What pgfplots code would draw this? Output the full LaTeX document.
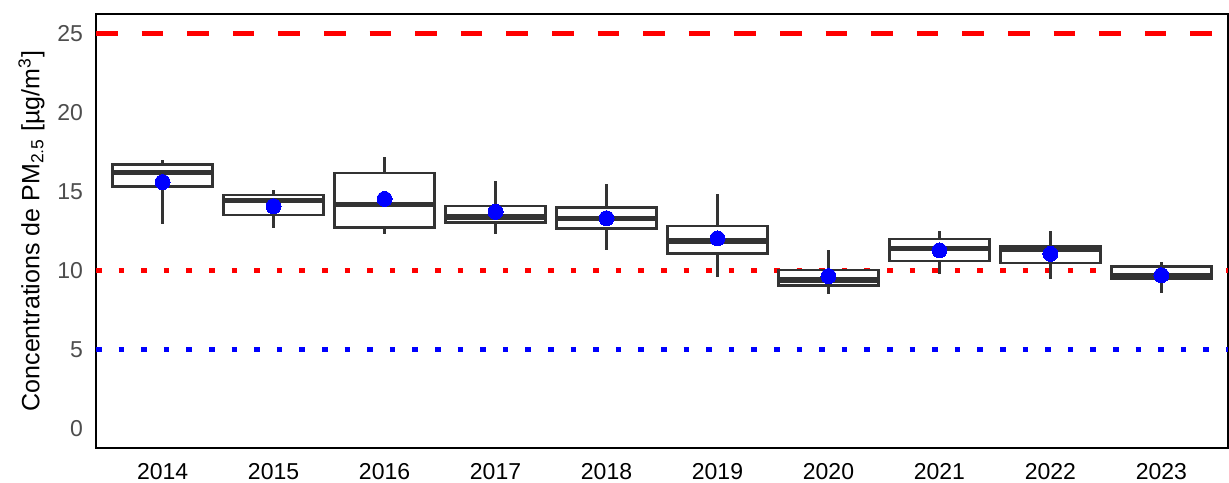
\documentclass[border=0pt]{standalone}
\usepackage{pgfplots}
\pgfplotsset{compat=1.18}
\usepgfplotslibrary{statistics}
\usepackage{fontspec}
\setmainfont{Liberation Sans}
\definecolor{boxgray}{HTML}{333333}
\definecolor{tickgray}{HTML}{4D4D4D}
\begin{document}
\begin{tikzpicture}
\begin{axis}[
  name=ax,
  scale only axis,
  width=566pt, height=217pt,
  xmin=0.4, xmax=10.6,
  ymin=-1.25, ymax=26.25,
  axis line style={black, line width=1pt},
  xtick={1,2,3,4,5,6,7,8,9,10},
  xticklabels={2014,2015,2016,2017,2018,2019,2020,2021,2022,2023},
  ytick={0,5,10,15,20,25},
  major tick length=0pt,
  tick style={draw=none},
  tick label style={font=\fontsize{11.5}{13}\selectfont},
  /pgf/number format/assume math mode=true,
  xticklabel style={yshift=-4.2pt, text=black},
  yticklabel style={xshift=-3pt, text=tickgray},
  ylabel={Concentrations de PM$_{\mathrm{2.5}}$ [µg/m$^{\mathrm{3}}$]},
  ylabel style={font=\fontsize{12.5}{14}\selectfont, yshift=-0.5pt},
  clip=false,
  boxplot/draw direction=y,
  boxplot/box extend=0.9,
  boxplot/whisker extend=0,
  boxplot/every box/.style={draw=boxgray, solid, line width=1.35pt, fill=white},
  boxplot/every whisker/.style={draw=boxgray, solid, line width=1.35pt},
  boxplot/every median/.style={draw=boxgray, solid, line width=2.6pt},
  bx/.style={solid, draw=boxgray, mark=none},
]
% reference lines
\addplot[red, line width=2.7pt, dash pattern=on 10.8pt off 12pt] coordinates {(0.4,25) (10.6,25)};
\addplot[red, line width=2.8pt, dash pattern=on 2.8pt off 8.5pt] coordinates {(0.4,10) (10.6,10)};
\addplot[blue, line width=2.8pt, dash pattern=on 2.8pt off 8.5pt] coordinates {(0.4,5) (10.6,5)};
% boxes
\addplot[bx, boxplot prepared={draw position=1, lower whisker=12.93, lower quartile=15.30, median=16.20, upper quartile=16.73, upper whisker=17.00}] coordinates {};
\addplot[bx, boxplot prepared={draw position=2, lower whisker=12.68, lower quartile=13.52, median=14.43, upper quartile=14.79, upper whisker=15.08}] coordinates {};
\addplot[bx, boxplot prepared={draw position=3, lower whisker=12.30, lower quartile=12.74, median=14.20, upper quartile=16.18, upper whisker=17.20}] coordinates {};
\addplot[bx, boxplot prepared={draw position=4, lower whisker=12.30, lower quartile=13.04, median=13.39, upper quartile=14.09, upper whisker=15.66}] coordinates {};
\addplot[bx, boxplot prepared={draw position=5, lower whisker=11.27, lower quartile=12.64, median=13.29, upper quartile=13.97, upper whisker=15.45}] coordinates {};
\addplot[bx, boxplot prepared={draw position=6, lower whisker=9.60, lower quartile=11.08, median=11.86, upper quartile=12.81, upper whisker=14.83}] coordinates {};
\addplot[bx, boxplot prepared={draw position=7, lower whisker=8.48, lower quartile=9.03, median=9.39, upper quartile=10.02, upper whisker=11.27}] coordinates {};
\addplot[bx, boxplot prepared={draw position=8, lower whisker=9.75, lower quartile=10.59, median=11.37, upper quartile=12.00, upper whisker=12.51}] coordinates {};
\addplot[bx, boxplot prepared={draw position=9, lower whisker=9.45, lower quartile=10.48, median=11.33, upper quartile=11.50, upper whisker=12.49}] coordinates {};
\addplot[bx, boxplot prepared={draw position=10, lower whisker=8.58, lower quartile=9.47, median=9.66, upper quartile=10.23, upper whisker=10.55}] coordinates {};
% means
\addplot[only marks, color=blue, mark=*, mark size=3.75pt, mark options={fill=blue, draw=blue, line width=0pt}] coordinates {
(1,15.60) (2,14.07) (3,14.53) (4,13.71) (5,13.31) (6,12.03) (7,9.64) (8,11.27) (9,11.05) (10,9.70)};
\end{axis}
\pgfresetboundingbox
\path ([shift={(-48pt,-17pt)}]ax.south west) rectangle ([shift={(0.5pt,7pt)}]ax.north east);
\end{tikzpicture}
\end{document}
